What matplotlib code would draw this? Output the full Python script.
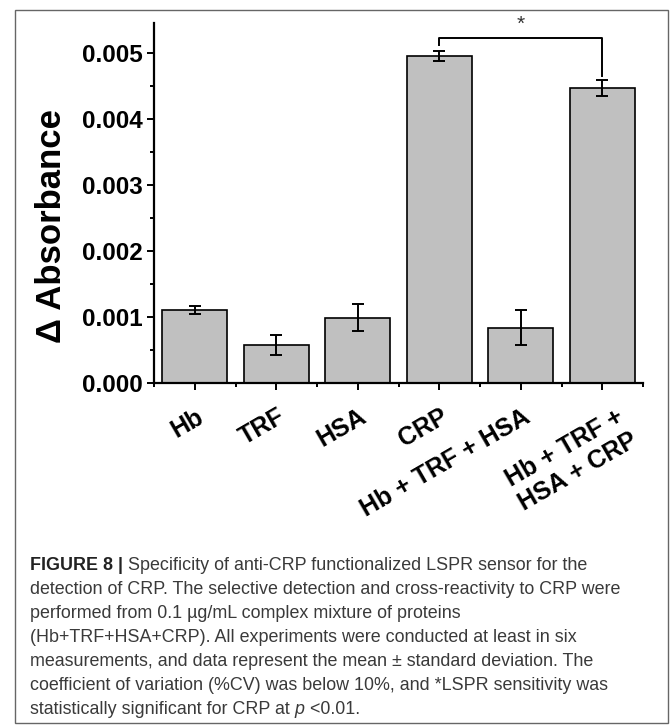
import matplotlib
matplotlib.use('Agg')
from matplotlib import pyplot as plt
from matplotlib.patches import Rectangle
from matplotlib.ticker import MultipleLocator
from matplotlib.transforms import ScaledTranslation
import numpy as np

# protein samples and their absorbance change (mean, sd)
samples = ['Hb', 'TRF', 'HSA', 'CRP', 'Hb + TRF + HSA', 'Hb + TRF +\nHSA + CRP']
delta_abs = [0.00111, 0.00057, 0.00099, 0.00495, 0.00084, 0.00447]
delta_sd = [0.00006, 0.00015, 0.00021, 0.00008, 0.00026, 0.00012]

# significance bracket between CRP and the full mixture
sig_pair = (3, 5)
sig_y = 0.00523
sig_drop = [0.00511, 0.00465]

caption_head = 'FIGURE 8 |'
caption_lines = [
    ' Specificity of anti-CRP functionalized LSPR sensor for the',
    'detection of CRP. The selective detection and cross-reactivity to CRP were',
    'performed from 0.1 \u00b5g/mL complex mixture of proteins',
    '(Hb+TRF+HSA+CRP). All experiments were conducted at least in six',
    'measurements, and data represent the mean \u00b1 standard deviation. The',
    'coefficient of variation (%CV) was below 10%, and *LSPR sensitivity was',
    'statistically significant for CRP at ',
]

W, H = 670, 727
fig = plt.figure(figsize=(W / 100, H / 100), dpi=100)
plt.rcParams['font.family'] = ['Liberation Sans', 'DejaVu Sans']

ax = fig.add_axes([154 / W, 1 - 383 / H, 489 / W, 360 / H])
x = np.arange(1, len(samples) + 1)
ax.bar(x, delta_abs, width=0.8, color='#c0c0c0', edgecolor='black', linewidth=1.2,
       yerr=delta_sd, error_kw=dict(ecolor='black', elinewidth=1.4, capsize=4, capthick=1.4))

ax.set_xlim(0.5, 6.5)
ax.set_ylim(0, 0.00545)
ax.yaxis.set_major_locator(MultipleLocator(0.001))
ax.yaxis.set_minor_locator(MultipleLocator(0.0005))
ax.set_xticks(x)
ax.set_xticks(np.arange(0.5, 7, 1), minor=True)
ax.set_yticklabels(['%.3f' % v for v in ax.get_yticks()], fontsize=17.5, fontweight='bold')

for s in ['top', 'right']:
    ax.spines[s].set_visible(False)
for s in ['left', 'bottom']:
    ax.spines[s].set_linewidth(1.6)
ax.tick_params(which='major', direction='out', length=5, width=1.4, pad=3)
ax.tick_params(which='minor', direction='out', length=3, width=1.4)
ax.tick_params(axis='x', which='major', pad=10.5)

ax.set_xticklabels(samples, fontsize=18, fontweight='bold', rotation=30,
                   ha='right', va='top', rotation_mode='anchor', multialignment='center',
                   linespacing=1.15)
# nudge labels to the right of their ticks, the stacked one a bit more
for i, lab in enumerate(ax.get_xticklabels()):
    dx = 14 if '\n' in samples[i] else 1
    lab.set_transform(lab.get_transform() + ScaledTranslation(dx / 100, 0, fig.dpi_scale_trans))

ax.set_ylabel('\u0394 Absorbance', fontsize=25, fontweight='bold', va='center')
ax.yaxis.set_label_coords(-0.2086, 0.436)

# bracket + star
x1, x2 = x[sig_pair[0]], x[sig_pair[1]]
ax.plot([x1, x1, x2, x2], [sig_drop[0], sig_y, sig_y, sig_drop[1]], color='black',
        linewidth=1.4, clip_on=False)
ax.text((x1 + x2) / 2, sig_y + 0.00005, '*', ha='center', va='bottom', fontsize=15,
        color='#333333', clip_on=False)

# outer frame
fig.add_artist(Rectangle((15 / W, 1 - 723 / H), (668 - 15) / W, (723 - 9.5) / H,
                         transform=fig.transFigure, fill=False, edgecolor='#666666',
                         linewidth=1))

# caption
cap_size = 12.9
cap_color = '#3a3a3a'
x0 = 30
y0 = 566
step = 24
r = fig.canvas.get_renderer()
head = fig.text(x0 / W, 1 - y0 / H, caption_head, fontsize=cap_size, fontweight='bold',
                color='#222222', va='center', ha='left')
hw = head.get_window_extent(r).width
fig.text((x0 + hw) / W, 1 - y0 / H, caption_lines[0], fontsize=cap_size, color=cap_color,
         va='center', ha='left')
for i, line in enumerate(caption_lines[1:], start=1):
    t = fig.text(x0 / W, 1 - (y0 + i * step) / H, line, fontsize=cap_size, color=cap_color,
                 va='center', ha='left')
tw = t.get_window_extent(r).width
p = fig.text((x0 + tw) / W, 1 - (y0 + 6 * step) / H, 'p', fontsize=cap_size, color=cap_color,
             style='italic', va='center', ha='left')
pw = p.get_window_extent(r).width
fig.text((x0 + tw + pw) / W, 1 - (y0 + 6 * step) / H, ' <0.01.', fontsize=cap_size,
         color=cap_color, va='center', ha='left')

fig.savefig('out.png', dpi=100)
